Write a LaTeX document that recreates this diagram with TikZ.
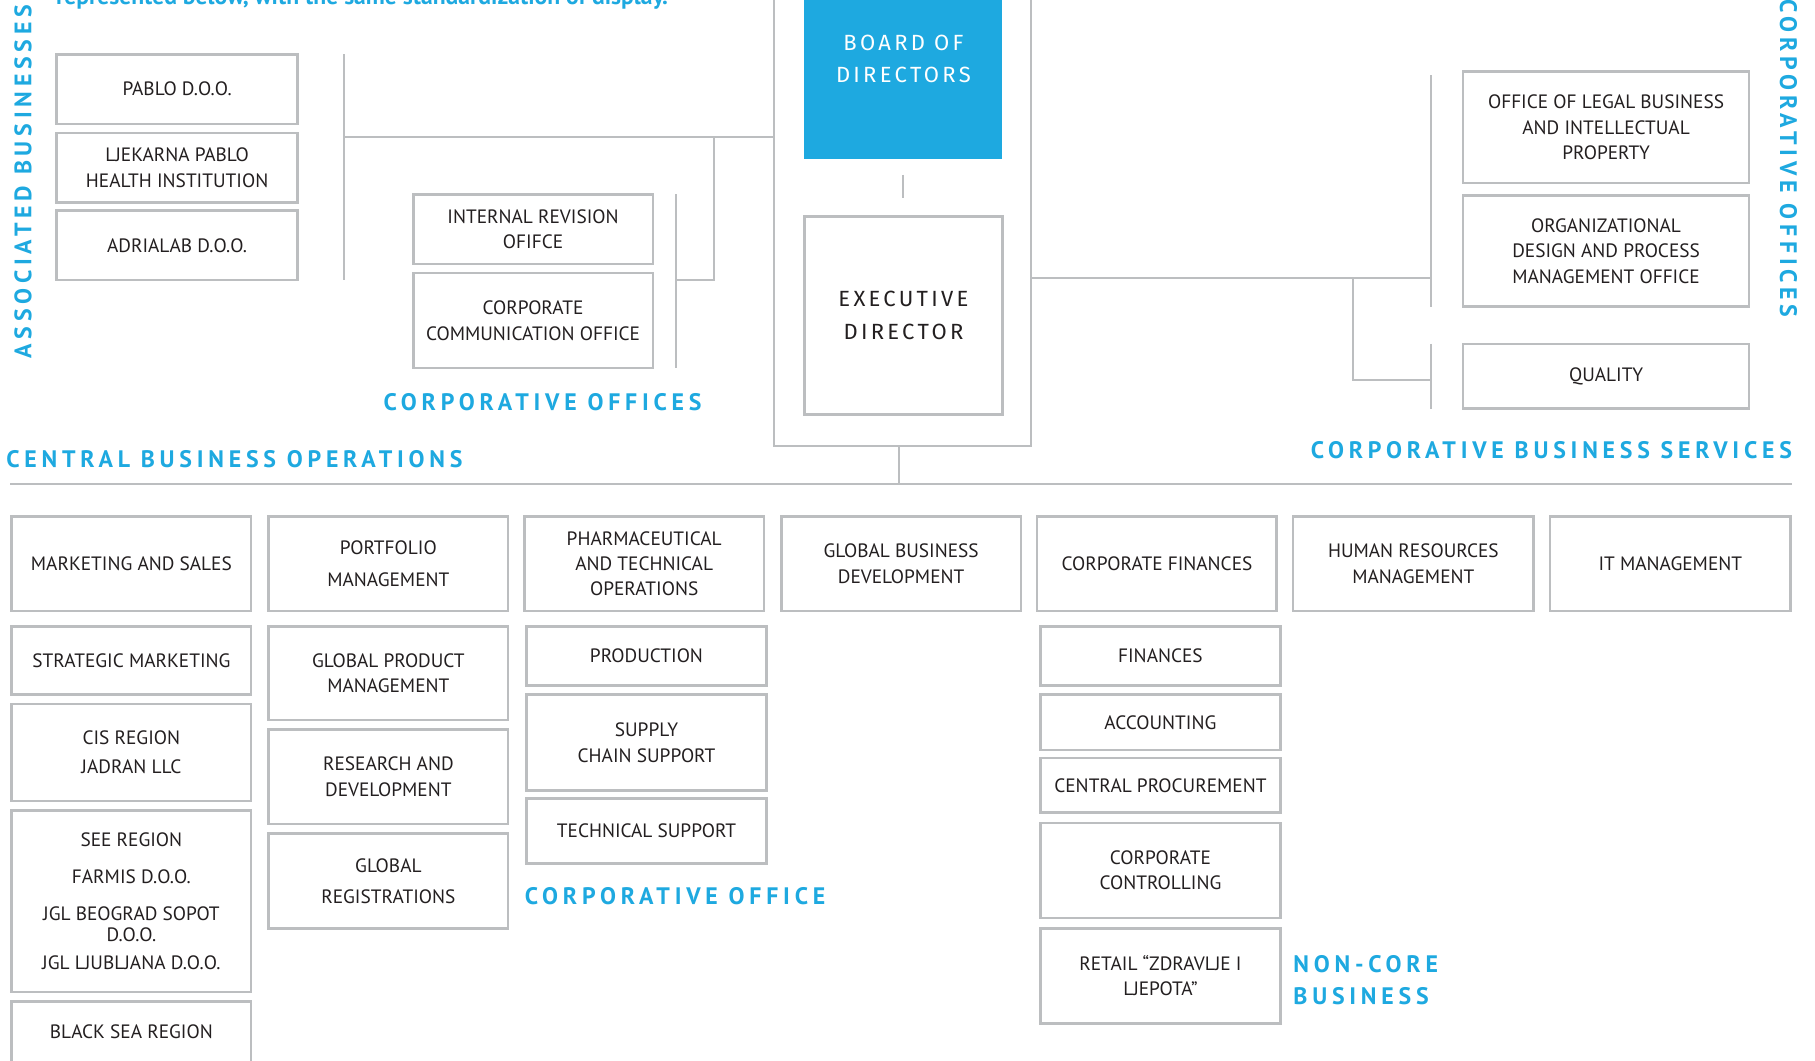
\documentclass[tikz,border=0pt]{standalone}
\usepackage{fontspec}
\setmainfont{PT Sans}
\newfontfamily\labelfont{PT Sans}[LetterSpace=20]
\newfontfamily\headfont{Fira Sans}[LetterSpace=15]
\definecolor{brand}{HTML}{1EA9E0}
\definecolor{rule}{HTML}{BCBEC0}
\definecolor{ink}{HTML}{231F20}

% box from corner (x1,y1) to corner (x2,y2); y grows downwards
\newcommand\bx[7][orgbox]{%
  \pgfmathsetmacro\bxcx{(#3+#5)/2}%
  \pgfmathsetmacro\bxcy{(#4+#6)/2}%
  \pgfmathsetmacro\bxw{(#5-#3)*0.5}%
  \pgfmathsetmacro\bxh{(#6-#4)*0.5}%
  \node[#1, minimum width=\bxw pt, minimum height=\bxh pt] (#2) at (\bxcx,\bxcy) {#7};}

\tikzset{
  orgbox/.style={draw=rule, line width=1.1pt, fill=white, inner sep=0pt,
    align=center, text=ink, font=\fontsize{8.35}{11}\selectfont},
  leadbox/.style={orgbox, font=\headfont\fontsize{9.5}{14}\selectfont},
  boardbox/.style={leadbox, draw=none, fill=brand, text=white},
  link/.style={draw=rule, line width=0.9pt},
  grouplabel/.style={text=brand, inner sep=0pt,
    font=\labelfont\bfseries\fontsize{10.3}{14}\selectfont},
}

\begin{document}
\begin{tikzpicture}[x=0.5pt, y=-0.5pt]
\useasboundingbox (0,0) rectangle (1568,916);
\clip (0,0) rectangle (1568,916);
\fill[white] (0,0) rectangle (1568,916);

% intro line running off the top edge
\node[anchor=base west, inner sep=0pt, text=brand,
  font=\bfseries\fontsize{10.2}{12}\selectfont] (intro) at (48,3.5)
  {represented below, with the same standardization of display.};

% ---------- governing frame ----------
\coordinate (frTL) at (669,-20);
\coordinate (frTR) at (891,-20);
\coordinate (frBL) at (669,385);
\coordinate (frBR) at (891,385);
\draw[link] (frTL) -- (frBL) -- (frBR) -- (frTR);

\bx[boardbox]{board}{695}{-35}{866}{137}{BOARD OF\\DIRECTORS}
\bx[leadbox]{exec}{695}{187}{866}{358}{EXECUTIVE\\DIRECTOR}
\coordinate (bdA) at (780,151);
\coordinate (bdB) at (780,171);
\draw[link] (bdA) -- (bdB);

% ---------- associated businesses ----------
\bx{pablo}{49}{47}{257}{107}{PABLO D.O.O.}
\bx{ljek}{49}{115}{257}{175}{LJEKARNA PABLO\\HEALTH INSTITUTION}
\bx{adria}{49}{182}{257}{242}{ADRIALAB D.O.O.}
\coordinate (abTop) at (297,47);
\coordinate (abBot) at (297,242);
\coordinate (abMid) at (297,118);
\coordinate (frL) at (669,118);
\draw[link] (abTop) -- (abBot);
\draw[link] (abMid) -- (frL);

% ---------- corporative offices (left) ----------
\bx{revis}{357}{168}{564}{228}{INTERNAL REVISION\\OFIFCE}
\bx{comm}{357}{236}{564}{318}{CORPORATE\\COMMUNICATION OFFICE}
\coordinate (coTop) at (584,168);
\coordinate (coBot) at (584,318);
\coordinate (coJ) at (584,242);
\coordinate (coK) at (617,242);
\coordinate (coU) at (617,118);
\draw[link] (coTop) -- (coBot);
\draw[link] (coU) -- (coK) -- (coJ);

% ---------- corporative offices (right) ----------
\bx{legal}{1264}{62}{1511}{158}{OFFICE OF LEGAL BUSINESS\\AND INTELLECTUAL\\PROPERTY}
\bx{orgd}{1264}{169}{1511}{265}{ORGANIZATIONAL\\DESIGN AND PROCESS\\MANAGEMENT OFFICE}
\bx{qual}{1264}{297}{1511}{353}{QUALITY}
\coordinate (frR) at (891,240);
\coordinate (roMid) at (1236,240);
\coordinate (roTop) at (1236,65);
\coordinate (roBot) at (1236,265);
\coordinate (qBr) at (1169,240);
\coordinate (qCor) at (1169,328);
\coordinate (qMid) at (1236,328);
\coordinate (qTop) at (1236,297);
\coordinate (qBot) at (1236,353);
\draw[link] (frR) -- (roMid);
\draw[link] (roTop) -- (roBot);
\draw[link] (qBr) -- (qCor) -- (qMid);
\draw[link] (qTop) -- (qBot);

% ---------- trunk and division rule ----------
\coordinate (trunk) at (777,385);
\coordinate (trunkEnd) at (777,418);
\coordinate (ruleL) at (9,418);
\coordinate (ruleR) at (1548,418);
\draw[link] (trunk) -- (trunkEnd);
\draw[link] (ruleL) -- (ruleR);

% ---------- group labels ----------
\node[grouplabel, rotate=90] (lblAssoc) at (20,157) {ASSOCIATED BUSINESSES};
\node[grouplabel, rotate=-90] (lblOffR) at (1545,137) {CORPORATIVE OFFICES};
\node[grouplabel, anchor=west] (lblOffL) at (331,347) {CORPORATIVE OFFICES};
\node[grouplabel, anchor=west] (lblCentral) at (5,397) {CENTRAL BUSINESS OPERATIONS};
\node[grouplabel, anchor=west] (lblServ) at (1132,389) {CORPORATIVE BUSINESS SERVICES};
\node[grouplabel, anchor=west] (lblOff) at (453,774) {CORPORATIVE OFFICE};
\node[grouplabel, anchor=west, align=left] (lblNon) at (1117,847) {NON-CORE\\BUSINESS};

% ---------- column 1 ----------
\bx{mkt}{10}{446}{217}{528}{MARKETING AND SALES}
\bx{strat}{10}{541}{217}{600}{STRATEGIC MARKETING}
\bx{cis}{10}{608}{217}{692}{CIS REGION\\[1.5pt]JADRAN LLC}
\bx{see}{10}{700}{217}{857}{SEE REGION\\[5pt]FARMIS D.O.O.\\[5pt]JGL BEOGRAD SOPOT\\[-2pt]D.O.O.\\[1pt]JGL LJUBLJANA D.O.O.}
\bx{black}{10}{865}{217}{918}{BLACK SEA REGION}

% ---------- column 2 ----------
\bx{port}{232}{446}{439}{528}{PORTFOLIO\\[2.5pt]MANAGEMENT}
\bx{gpm}{232}{541}{439}{622}{GLOBAL PRODUCT\\MANAGEMENT}
\bx{rnd}{232}{630}{439}{712}{RESEARCH AND\\DEVELOPMENT}
\bx{greg}{232}{720}{439}{802}{GLOBAL\\[2.5pt]REGISTRATIONS}

% ---------- column 3 ----------
\bx{pharm}{453}{446}{660}{528}{PHARMACEUTICAL\\AND TECHNICAL\\OPERATIONS}
\bx{prod}{455}{541}{662}{592}{PRODUCTION}
\bx{supply}{455}{600}{662}{683}{SUPPLY\\CHAIN SUPPORT}
\bx{tech}{455}{690}{662}{746}{TECHNICAL SUPPORT}

% ---------- column 4 ----------
\bx{gbd}{675}{446}{882}{528}{GLOBAL BUSINESS\\DEVELOPMENT}

% ---------- column 5 ----------
\bx{cfin}{896}{446}{1103}{528}{CORPORATE FINANCES}
\bx{fin}{899}{541}{1106}{592}{FINANCES}
\bx{acc}{899}{600}{1106}{648}{ACCOUNTING}
\bx{proc}{899}{655}{1106}{702}{CENTRAL PROCUREMENT}
\bx{ctrl}{899}{711}{1106}{793}{CORPORATE\\CONTROLLING}
\bx{retail}{899}{802}{1106}{884}{RETAIL “ZDRAVLJE I\\LJEPOTA”}

% ---------- columns 6 and 7 ----------
\bx{hr}{1117}{446}{1325}{528}{HUMAN RESOURCES\\MANAGEMENT}
\bx{it}{1339}{446}{1547}{528}{IT MANAGEMENT}
\end{tikzpicture}
\end{document}
